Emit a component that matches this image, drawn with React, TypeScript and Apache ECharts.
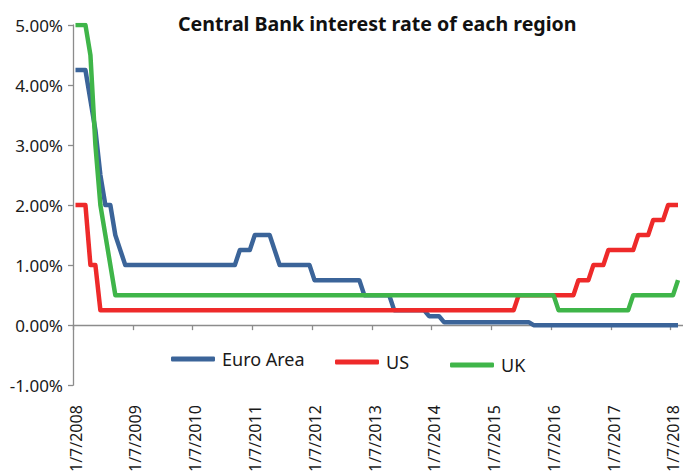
import React, { useEffect, useRef } from "react";
import * as echarts from "echarts";

// Monthly end-of-month policy rates (%), Jul 2008 .. Aug 2018
const euroArea: number[] = [
  4.25, 4.25, 4.25, 3.75, 3.25, 2.5, // 2008 Jul-Dec
  2.0, 2.0, 1.5, 1.25, 1.0, 1.0, 1.0, 1.0, 1.0, 1.0, 1.0, 1.0, // 2009
  1.0, 1.0, 1.0, 1.0, 1.0, 1.0, 1.0, 1.0, 1.0, 1.0, 1.0, 1.0, // 2010
  1.0, 1.0, 1.0, 1.25, 1.25, 1.25, 1.5, 1.5, 1.5, 1.5, 1.25, 1.0, // 2011
  1.0, 1.0, 1.0, 1.0, 1.0, 1.0, 0.75, 0.75, 0.75, 0.75, 0.75, 0.75, // 2012
  0.75, 0.75, 0.75, 0.75, 0.5, 0.5, 0.5, 0.5, 0.5, 0.5, 0.25, 0.25, // 2013
  0.25, 0.25, 0.25, 0.25, 0.25, 0.15, 0.15, 0.15, 0.05, 0.05, 0.05, 0.05, // 2014
  0.05, 0.05, 0.05, 0.05, 0.05, 0.05, 0.05, 0.05, 0.05, 0.05, 0.05, 0.05, // 2015
  0.05, 0.05, 0, 0, 0, 0, 0, 0, 0, 0, 0, 0, // 2016
  0, 0, 0, 0, 0, 0, 0, 0, 0, 0, 0, 0, // 2017
  0, 0, 0, 0, 0, 0, 0, 0, // 2018 Jan-Aug
];

const us: number[] = [
  2.0, 2.0, 2.0, 1.0, 1.0, 0.25, // 2008 Jul-Dec
  0.25, 0.25, 0.25, 0.25, 0.25, 0.25, 0.25, 0.25, 0.25, 0.25, 0.25, 0.25, // 2009
  0.25, 0.25, 0.25, 0.25, 0.25, 0.25, 0.25, 0.25, 0.25, 0.25, 0.25, 0.25, // 2010
  0.25, 0.25, 0.25, 0.25, 0.25, 0.25, 0.25, 0.25, 0.25, 0.25, 0.25, 0.25, // 2011
  0.25, 0.25, 0.25, 0.25, 0.25, 0.25, 0.25, 0.25, 0.25, 0.25, 0.25, 0.25, // 2012
  0.25, 0.25, 0.25, 0.25, 0.25, 0.25, 0.25, 0.25, 0.25, 0.25, 0.25, 0.25, // 2013
  0.25, 0.25, 0.25, 0.25, 0.25, 0.25, 0.25, 0.25, 0.25, 0.25, 0.25, 0.25, // 2014
  0.25, 0.25, 0.25, 0.25, 0.25, 0.25, 0.25, 0.25, 0.25, 0.25, 0.25, 0.5, // 2015
  0.5, 0.5, 0.5, 0.5, 0.5, 0.5, 0.5, 0.5, 0.5, 0.5, 0.5, 0.75, // 2016
  0.75, 0.75, 1.0, 1.0, 1.0, 1.25, 1.25, 1.25, 1.25, 1.25, 1.25, 1.5, // 2017
  1.5, 1.5, 1.75, 1.75, 1.75, 2.0, 2.0, 2.0, // 2018 Jan-Aug
];

const uk: number[] = [
  5.0, 5.0, 5.0, 4.5, 3.0, 2.0, // 2008 Jul-Dec
  1.5, 1.0, 0.5, 0.5, 0.5, 0.5, 0.5, 0.5, 0.5, 0.5, 0.5, 0.5, // 2009
  0.5, 0.5, 0.5, 0.5, 0.5, 0.5, 0.5, 0.5, 0.5, 0.5, 0.5, 0.5, // 2010
  0.5, 0.5, 0.5, 0.5, 0.5, 0.5, 0.5, 0.5, 0.5, 0.5, 0.5, 0.5, // 2011
  0.5, 0.5, 0.5, 0.5, 0.5, 0.5, 0.5, 0.5, 0.5, 0.5, 0.5, 0.5, // 2012
  0.5, 0.5, 0.5, 0.5, 0.5, 0.5, 0.5, 0.5, 0.5, 0.5, 0.5, 0.5, // 2013
  0.5, 0.5, 0.5, 0.5, 0.5, 0.5, 0.5, 0.5, 0.5, 0.5, 0.5, 0.5, // 2014
  0.5, 0.5, 0.5, 0.5, 0.5, 0.5, 0.5, 0.5, 0.5, 0.5, 0.5, 0.5, // 2015
  0.5, 0.5, 0.5, 0.5, 0.5, 0.5, 0.5, 0.25, 0.25, 0.25, 0.25, 0.25, // 2016
  0.25, 0.25, 0.25, 0.25, 0.25, 0.25, 0.25, 0.25, 0.25, 0.25, 0.5, 0.5, // 2017
  0.5, 0.5, 0.5, 0.5, 0.5, 0.5, 0.5, 0.75, // 2018 Jan-Aug
];

const tickLabels: string[] = [
  "1/7/2008", "1/7/2009", "1/7/2010", "1/7/2011", "1/7/2012", "1/7/2013",
  "1/7/2014", "1/7/2015", "1/7/2016", "1/7/2017", "1/7/2018",
];

const seriesNames = ["Euro Area", "US", "UK"];
const colors = ["#3b6499", "#ee2a2a", "#3fb549"];

const FONT = "'Noto Sans', sans-serif";

export default function App() {
  const ref = useRef<HTMLDivElement>(null);
  useEffect(() => {
    if (!ref.current) return;
    const chart = echarts.init(ref.current, undefined, { renderer: "svg" });
    const toPairs = (arr: number[]) => arr.map((v, i) => [i + 0.5, v]);
    const yearTicks = tickLabels.map((_, i) => i * 12);
    const labelValues = tickLabels.map((_, i) => i * 12 + 0.55);
    const xMax = euroArea.length + 0.5;
    const legendPos = [
      { left: 171, top: 350 },
      { left: 335, top: 353 },
      { left: 450, top: 356 },
    ];
    chart.setOption({
      animation: false,
      title: {
        text: "Central Bank interest rate of each region",
        left: 173,
        top: 8,
        textStyle: { fontFamily: FONT, fontSize: 19.6, fontWeight: "bold", color: "#111" },
      },
      legend: seriesNames.map((n, i) => ({
        data: [n],
        left: legendPos[i].left,
        top: legendPos[i].top,
        padding: 0,
        icon: "roundRect",
        itemWidth: 44,
        itemHeight: 5,
        itemGap: 10,
        textStyle: { fontFamily: FONT, fontSize: 18, color: "#1a1a1a", padding: [0, 0, 0, 2] },
      })),
      grid: { left: 73, right: 0, top: 25, bottom: 87, containLabel: false },
      xAxis: [
        {
          type: "value",
          min: 0,
          max: xMax,
          axisLine: { onZero: true, lineStyle: { color: "#8c8c8c", width: 1.3 } },
          axisTick: { show: true, length: 5, customValues: yearTicks, lineStyle: { color: "#8c8c8c", width: 1.3 } },
          axisLabel: { show: false },
          splitLine: { show: false },
        },
        {
          type: "value",
          position: "bottom",
          min: 0,
          max: xMax,
          axisLine: { show: false, onZero: false },
          axisTick: { show: false },
          splitLine: { show: false },
          axisLabel: {
            show: true,
            rotate: 90,
            margin: 20,
            customValues: labelValues,
            formatter: (v: number) => tickLabels[Math.round(v / 12)] ?? "",
            fontFamily: FONT,
            fontSize: 16,
            color: "#1a1a1a",
          },
        },
      ],
      yAxis: {
        type: "value",
        min: -1,
        max: 5,
        interval: 1,
        axisLine: { show: true, lineStyle: { color: "#8c8c8c", width: 1.3 } },
        axisTick: { show: true, length: 5, lineStyle: { color: "#8c8c8c", width: 1.3 } },
        splitLine: { show: false },
        axisLabel: {
          formatter: (v: number) => v.toFixed(2) + "%",
          fontFamily: FONT,
          fontSize: 17,
          color: "#1a1a1a",
          margin: 10,
        },
      },
      series: [euroArea, us, uk].map((arr, i) => ({
        name: seriesNames[i],
        type: "line",
        xAxisIndex: 0,
        data: toPairs(arr),
        symbol: "none",
        lineStyle: { color: colors[i], width: 4.5, join: "round" },
        itemStyle: { color: colors[i] },
        color: colors[i],
      })),
    });
    return () => chart.dispose();
  }, []);
  return (
    <div
      ref={ref}
      style={{ position: "absolute", left: 0, top: 0, width: 683, height: 475 }}
    />
  );
}
